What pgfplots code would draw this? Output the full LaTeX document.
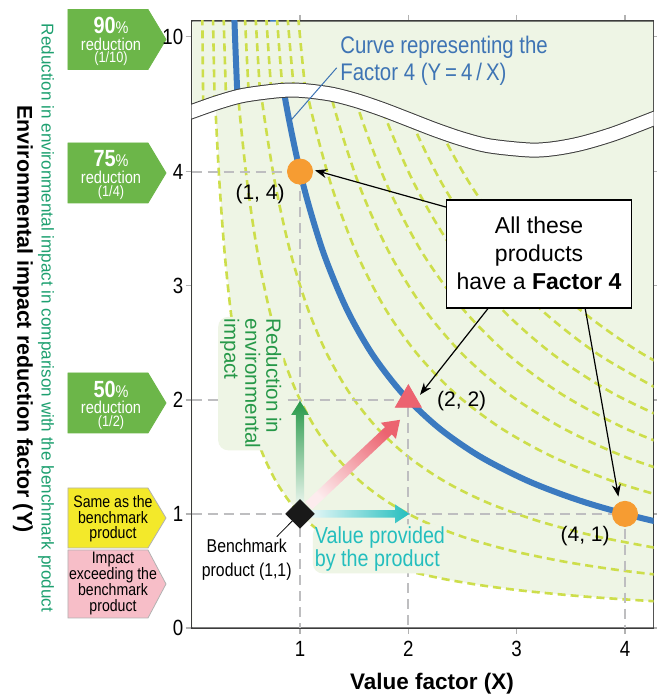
\documentclass[border=0pt]{standalone}
\usepackage{fontspec}
\setmainfont{Liberation Sans}
\newfontfamily\cond{Liberation Sans}[FakeStretch=0.85]
\usepackage{pgfplots}
\pgfplotsset{compat=1.18}
\usetikzlibrary{arrows.meta}

\definecolor{bgshade}{RGB}{238,245,229}
\definecolor{dashg}{RGB}{205,222,75}
\definecolor{bluec}{RGB}{59,122,192}
\definecolor{bluet}{RGB}{62,116,180}
\definecolor{guideg}{RGB}{190,190,192}
\definecolor{orangec}{RGB}{246,156,50}
\definecolor{redc}{RGB}{236,99,112}
\definecolor{rgreen}{RGB}{38,152,72}
\definecolor{cyanc}{RGB}{36,190,190}
\definecolor{badgeg}{RGB}{108,182,73}
\definecolor{tealg}{RGB}{30,160,112}
\definecolor{yellowb}{RGB}{243,233,42}
\definecolor{pinkb}{RGB}{247,190,200}
\definecolor{boxc}{RGB}{60,60,60}

\tikzset{
  gd/.style={color=dashg, line width=1.3pt, dash pattern=on 4pt off 2.5pt, smooth},
  f4/.style={color=bluec, line width=3pt, smooth},
  guide/.style={color=guideg, line width=1pt, dash pattern=on 5pt off 3pt},
  callout/.style={-{Stealth[length=6pt,width=4.5pt]}, line width=0.6pt, black},
}

% badge: fill, border, centre y, half height
\newcommand\badge[4]{\filldraw[fill=#1, draw=#2, line width=0.4pt]
  (-61.85pt,#3pt+#4pt) -- (-21.85pt,#3pt+#4pt) -- (-12.85pt,#3pt)
  -- (-21.85pt,#3pt-#4pt) -- (-61.85pt,#3pt-#4pt) -- cycle;}
% green badge text: centre y, percentage, fraction
\newcommand\redtext[3]{%
  \node[text=white, inner sep=0pt, font=\cond\bfseries\fontsize{11.7}{12}\selectfont]
    at (-40.35pt,#1pt+7pt) {#2{\mdseries\fontsize{8.5}{9}\selectfont\%}};
  \node[text=white, inner sep=0pt, font=\cond\fontsize{8.6}{9}\selectfont]
    at (-40.35pt,#1pt-2.25pt) {reduction};
  \node[text=white, inner sep=0pt, font=\cond\fontsize{7.5}{8}\selectfont]
    at (-40.35pt,#1pt-9.75pt) {(#3)};}

\begin{document}
\begin{tikzpicture}
\path[use as bounding box] (-95.85pt,-33.5pt) rectangle (232.65pt,314pt);
\badge{badgeg}{badgeg}{294.25}{15}
\badge{badgeg}{badgeg}{227.5}{15}
\badge{badgeg}{badgeg}{112.5}{15}
\badge{yellowb}{gray!60}{55}{15}
\badge{pinkb}{gray!60}{22}{17}
\begin{axis}[
  at={(0pt,0pt)}, anchor=south west,
  scale only axis, width=231pt, height=303.5pt,
  xmin=0, xmax=4.265, ymin=0, ymax=5.32,
  axis background/.style={fill=bgshade},
  axis line style={draw=boxc, line width=0.6pt},
  xtick={1,2,3,4}, xticklabels={1,2,3,4},
  ytick={0,1,2,3,4,5.184}, yticklabels={0,1,2,3,4,10},
  tick align=outside, major tick length=3pt,
  tick style={draw=gray!60, line width=0.8pt},
  tick label style={font=\cond\fontsize{11}{12}\selectfont},
  yticklabel style={inner sep=1pt},
  xlabel={Value factor (X)},
  xlabel style={font=\bfseries\fontsize{11.25}{12}\selectfont,
    at={(axis description cs:0.52,0)}, anchor=center, yshift=-28pt},
]
% white area under Y = 1/X
\addplot[fill=white, draw=none] coordinates {(0.006,0.006) (0.006,5.314) (0.1882,5.314) (0.2174,4.6) (0.2564,3.9) (0.3030,3.3) (0.3571,2.8) (0.4167,2.4) (0.4878,2.05) (0.5714,1.75) (0.6667,1.5) (0.7813,1.28) (0.9091,1.1) (1.0638,0.94) (1.25,0.8) (1.4706,0.68) (1.7241,0.58) (2.0,0.5) (2.3256,0.43) (2.7027,0.37) (3.125,0.32) (3.7037,0.27) (4.259,0.2348) (4.259,0.006)} -- cycle;

% lower part: Y = k/X, k = 1..10
\addplot[gd] coordinates {(0.1852,5.4) (0.2174,4.6) (0.2564,3.9) (0.3030,3.3) (0.3571,2.8) (0.4167,2.4) (0.4878,2.05) (0.5714,1.75) (0.6667,1.5) (0.7813,1.28) (0.9091,1.1) (1.0638,0.94) (1.25,0.8) (1.4706,0.68) (1.7241,0.58) (2.0,0.5) (2.3256,0.43) (2.7027,0.37) (3.125,0.32) (3.7037,0.27) (4.3478,0.23)};
\addplot[gd] coordinates {(0.3704,5.4) (0.4348,4.6) (0.5128,3.9) (0.6061,3.3) (0.7143,2.8) (0.8333,2.4) (0.9756,2.05) (1.1429,1.75) (1.3333,1.5) (1.5625,1.28) (1.8182,1.1) (2.1277,0.94) (2.5,0.8) (2.9412,0.68) (3.4483,0.58) (4.0,0.5) (4.6512,0.43)};
\addplot[gd] coordinates {(0.5556,5.4) (0.6522,4.6) (0.7692,3.9) (0.9091,3.3) (1.0714,2.8) (1.25,2.4) (1.4634,2.05) (1.7143,1.75) (2.0,1.5) (2.3438,1.28) (2.7273,1.1) (3.1915,0.94) (3.75,0.8) (4.4118,0.68)};
\addplot[gd] coordinates {(0.9259,5.4) (1.0870,4.6) (1.2821,3.9) (1.5152,3.3) (1.7857,2.8) (2.0833,2.4) (2.4390,2.05) (2.8571,1.75) (3.3333,1.5) (3.9063,1.28) (4.5455,1.1)};
\addplot[gd] coordinates {(1.1111,5.4) (1.3043,4.6) (1.5385,3.9) (1.8182,3.3) (2.1429,2.8) (2.5,2.4) (2.9268,2.05) (3.4286,1.75) (4.0,1.5) (4.6875,1.28)};
\addplot[gd] coordinates {(1.2963,5.4) (1.5217,4.6) (1.7949,3.9) (2.1212,3.3) (2.5,2.8) (2.9167,2.4) (3.4146,2.05) (4.0,1.75) (4.6667,1.5)};
\addplot[gd] coordinates {(1.4815,5.4) (1.7391,4.6) (2.0513,3.9) (2.4242,3.3) (2.8571,2.8) (3.3333,2.4) (3.9024,2.05) (4.5714,1.75)};
\addplot[gd] coordinates {(1.6667,5.4) (1.9565,4.6) (2.3077,3.9) (2.7273,3.3) (3.2143,2.8) (3.75,2.4) (4.3902,2.05)};
\addplot[gd] coordinates {(1.8519,5.4) (2.1739,4.6) (2.5641,3.9) (3.0303,3.3) (3.5714,2.8) (4.1667,2.4) (4.8780,2.05)};
\addplot[f4] coordinates {(0.7407,5.4) (0.8696,4.6) (1.0256,3.9) (1.2121,3.3) (1.4286,2.8) (1.6667,2.4) (1.9512,2.05) (2.2857,1.75) (2.6667,1.5) (3.125,1.28) (3.6364,1.1) (4.2553,0.94) (5.0,0.8)};

% upper part (Y around 10, drawn at Y - 4.82)
\addplot[fill=bgshade, draw=none] coordinates {(0.006,5.314) (4.259,5.314) (4.259,4.462) (3.9,4.332) (3.6,4.247) (3.35,4.202) (3.124,4.189) (2.75,4.225) (2.5,4.285) (2.25,4.366) (2.0,4.458) (1.75,4.549) (1.5,4.628) (1.25,4.685) (0.908,4.715) (0.5,4.672) (0.25,4.609) (0.006,4.527)} -- cycle;
\addplot[gd] coordinates {(0.0962,5.58) (0.1010,5.08) (0.1066,4.562)};
\addplot[gd] coordinates {(0.1923,5.58) (0.2020,5.08) (0.2124,4.596)};
\addplot[gd] coordinates {(0.2885,5.58) (0.3030,5.08) (0.3175,4.628)};
\addplot[gd] coordinates {(0.4808,5.58) (0.5051,5.08) (0.5264,4.678)};
\addplot[gd] coordinates {(0.5769,5.58) (0.6061,5.08) (0.6306,4.695)};
\addplot[gd] coordinates {(0.6731,5.58) (0.7071,5.08) (0.7348,4.707)};
\addplot[gd] coordinates {(0.7692,5.58) (0.8081,5.08) (0.8392,4.713)};
\addplot[gd] coordinates {(0.8654,5.58) (0.9091,5.08) (0.9439,4.715)};
\addplot[gd] coordinates {(0.9615,5.58) (1.0101,5.08) (1.0493,4.710)};
\addplot[f4] coordinates {(0.3846,5.58) (0.4040,5.08) (0.4222,4.655)};

% axis break
\addplot[draw=boxc, line width=7.5pt, smooth] coordinates {(-0.05,4.508) (0,4.526) (0.25,4.609) (0.5,4.672) (0.908,4.715) (1.25,4.685) (1.5,4.628) (1.75,4.549) (2.0,4.458) (2.25,4.366) (2.5,4.285) (2.75,4.225) (3.124,4.189) (3.35,4.202) (3.6,4.247) (3.9,4.332) (4.265,4.464) (4.32,4.485)};
\addplot[draw=white, line width=6.5pt, smooth] coordinates {(-0.05,4.508) (0,4.526) (0.25,4.609) (0.5,4.672) (0.908,4.715) (1.25,4.685) (1.5,4.628) (1.75,4.549) (2.0,4.458) (2.25,4.366) (2.5,4.285) (2.75,4.225) (3.124,4.189) (3.35,4.202) (3.6,4.247) (3.9,4.332) (4.265,4.464) (4.32,4.485)};

\draw[bluet, line width=0.5pt] (axis cs:1.339,4.91) -- (axis cs:0.908,4.441);
\node[anchor=west, align=left, text=bluet, inner sep=0pt,
  font=\cond\fontsize{12}{13.5}\selectfont] at (axis cs:1.368,4.967)
  {Curve representing the\\Factor 4 (Y\,=\,4\,/\,X)};

% guide lines
\addplot[guide] coordinates {(0,4) (1,4) (1,0)};
\addplot[guide] coordinates {(0,2) (2,2) (2,0)};
\addplot[guide] coordinates {(0,1) (4,1) (4,0)};

\node[rotate=-90, anchor=north west, align=left, text=rgreen, fill=bgshade,
  rounded corners=5pt, inner sep=1pt, font=\fontsize{10.3}{10.5}\selectfont]
  at (axis cs:0.85,2.73) {Reduction in\\environmental\\impact};
\node[anchor=west, align=left, text=cyanc, fill=bgshade, rounded corners=5pt,
  inner sep=1pt, font=\cond\fontsize{11.6}{11.7}\selectfont]
  at (axis cs:1.115,0.693) {Value provided\\by the product};

% arrows from the benchmark product
\shade[bottom color=rgreen!8, top color=rgreen] (axis cs:0.961,1.06) -- (axis cs:1.039,1.06) -- (axis cs:1.039,1.868) -- (axis cs:1.0815,1.868) -- (axis cs:1,1.99) -- (axis cs:0.9185,1.868) -- (axis cs:0.961,1.868) -- cycle;
\shade[left color=cyanc!8, right color=cyanc] (axis cs:1.06,0.968) -- (axis cs:1.877,0.968) -- (axis cs:1.877,0.917) -- (axis cs:2.009,1) -- (axis cs:1.877,1.083) -- (axis cs:1.877,1.032) -- (axis cs:1.06,1.032) -- cycle;
\shade[bottom color=redc!12, top color=redc, shading angle=-45] (axis cs:1.0492,1.1040) -- (axis cs:1.7841,1.7604) -- (axis cs:1.7461,1.7988) -- (axis cs:1.9234,1.8246) -- (axis cs:1.8853,1.6581) -- (axis cs:1.8474,1.6965) -- (axis cs:1.1125,1.0402) -- cycle;

% callout
\node[draw=black, line width=0.9pt, fill=white, align=center, minimum width=92.5pt,
  minimum height=54pt, inner sep=0pt, font=\fontsize{11.5}{14}\selectfont]
  at (axis cs:3.207,3.281) {All these\\products\\have a \textbf{Factor 4}};
\draw[callout] (axis cs:2.355,3.687) -- (axis cs:1.138,4.011);
\draw[callout] (axis cs:2.739,2.804) -- (axis cs:2.108,2.044);
\draw[callout] (axis cs:3.632,2.804) -- (axis cs:3.939,1.152);

\node[font=\fontsize{10.5}{12}\selectfont] at (axis cs:0.631,3.80) {(1, 4)};
\node[font=\fontsize{10.5}{12}\selectfont] at (axis cs:2.493,1.985) {(2, 2)};
\node[font=\fontsize{10.5}{12}\selectfont] at (axis cs:3.632,0.807) {(4, 1)};
\draw[black, line width=0.4pt] (axis cs:0.938,0.947) -- (axis cs:0.785,0.80);
\node[align=center, font=\cond\fontsize{9.3}{12}\selectfont] at (axis cs:0.508,0.596)
  {Benchmark\\product (1,1)};

% products
\addplot[only marks, color=orangec, mark=*, mark size=6.3pt, mark options={draw=orangec, fill=orangec}] coordinates {(1,4) (4,1)};
\addplot[only marks, color=redc, mark=triangle*, mark size=7.5pt, mark options={draw=redc, fill=redc}] coordinates {(2,2)};
\addplot[only marks, color=black!90, mark=square*, mark size=5pt, mark options={draw=black!90, fill=black!90, rotate=45}] coordinates {(1,1)};
\end{axis}

% y titles
\node[rotate=-90, font=\bfseries\fontsize{10.7}{12}\selectfont] at (-84.35pt,154.5pt)
  {Environmental impact reduction factor (Y)};
\node[rotate=-90, text=tealg, font=\fontsize{8.55}{9}\selectfont] at (-72.85pt,155pt)
  {Reduction in environmental impact in comparison with the benchmark product};

% badge texts
\redtext{294.25}{90}{1/10}
\redtext{227.5}{75}{1/4}
\redtext{112.5}{50}{1/2}
\node[align=center, font=\cond\fontsize{8.3}{7.85}\selectfont] at (-39.35pt,54.6pt)
  {Same as the\\benchmark\\product};
\node[align=center, font=\cond\fontsize{8.3}{7.85}\selectfont] at (-39.35pt,22.25pt)
  {Impact\\exceeding the\\benchmark\\product};
\end{tikzpicture}
\end{document}
